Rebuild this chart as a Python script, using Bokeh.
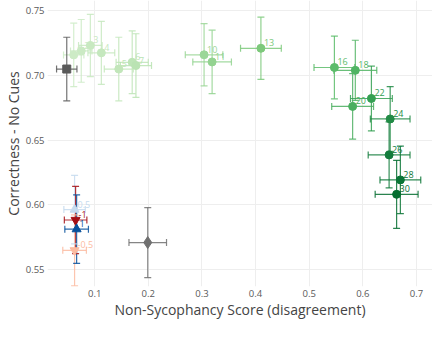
from bokeh.plotting import figure
from bokeh.models import ColumnDataSource, Range1d
from bokeh.embed import file_html
from bokeh.resources import INLINE
from bokeh.core.properties import value
import math

# ---- data ----
layer_labels = ["1", "2", "3", "4", "5", "6", "7", "10", "11", "13",
                "16", "18", "20", "22", "24", "26", "28", "30"]
layer_x = [0.061, 0.075, 0.092, 0.1125, 0.145, 0.170, 0.177, 0.304, 0.319, 0.410,
           0.547, 0.586, 0.581, 0.616, 0.651, 0.649, 0.670, 0.663]
layer_y = [0.7157, 0.7188, 0.7230, 0.7173, 0.7048, 0.7100, 0.7075, 0.7158, 0.7103, 0.7208,
           0.7060, 0.7038, 0.6760, 0.6821, 0.6663, 0.6386, 0.6193, 0.6082]
layer_xerr = [0.019, 0.020, 0.022, 0.025, 0.027, 0.030, 0.029, 0.035, 0.036, 0.038,
              0.038, 0.040, 0.039, 0.039, 0.037, 0.039, 0.038, 0.040]
layer_yerr = [0.0245, 0.0242, 0.0240, 0.0243, 0.0245, 0.0242, 0.0245, 0.0240, 0.0245, 0.0240,
              0.0242, 0.0232, 0.0252, 0.0250, 0.0250, 0.0255, 0.0260, 0.0262]
layer_colors = ["#cdebc6", "#cbeac4", "#c8e9c1", "#c5e8be", "#c2e6ba", "#bee5b7", "#bae3b3",
                "#9bd697", "#93d390", "#7dc97b", "#5cbc6a", "#50b463", "#4aae5f", "#34a052",
                "#218b45", "#137c3c", "#0b7536", "#056d30"]

coef_labels = ["0.5", "-1", "1", "-0.5"]
coef_x = [0.0626, 0.0645, 0.0664, 0.0626]
coef_y = [0.5964, 0.5884, 0.5813, 0.5650]
coef_xerr = [0.020, 0.021, 0.022, 0.022]
coef_yerr = [0.0264, 0.0259, 0.0264, 0.0274]
coef_colors = ["#c6dbef", "#a50f15", "#08519c", "#fcbba1"]
coef_markers = ["triangle", "inverted_triangle", "triangle", "inverted_triangle"]

base_x = [0.048]
base_y = [0.7048]
base_xerr = [0.019]
base_yerr = [0.0245]

other_x = [0.199]
other_y = [0.5710]
other_xerr = [0.035]
other_yerr = [0.0270]

x_ticks = [0.1, 0.2, 0.3, 0.4, 0.5, 0.6, 0.7]
y_ticks = [0.55, 0.60, 0.65, 0.70, 0.75]

FONT = "Open Sans"

p = figure(width=432, height=321, output_backend="svg", toolbar_location=None,
           x_range=Range1d(0.0121, 0.7299), y_range=Range1d(0.5371, 0.75766),
           min_border_left=0, min_border_right=0, min_border_top=0, min_border_bottom=33)
p.outline_line_color = None
p.background_fill_color = "white"
p.border_fill_color = "white"
p.grid.grid_line_color = "#eeeeee"
p.grid.grid_line_width = 1

for ax in (p.xaxis[0], p.yaxis[0]):
    ax.axis_line_color = None
    ax.major_tick_line_color = None
    ax.minor_tick_line_color = None
    ax.major_tick_out = 0
    ax.major_tick_in = 0
    ax.minor_tick_out = 0
    ax.minor_tick_in = 0
    ax.major_label_text_font = FONT
    ax.major_label_text_font_size = "9.5px"
    ax.major_label_text_color = "#5a5a5a"
    ax.axis_label_text_font = FONT
    ax.axis_label_text_font_size = "14px"
    ax.axis_label_text_font_style = "normal"
    ax.axis_label_text_color = "#444444"
    ax.major_label_standoff = 3
    ax.axis_label_standoff = 0

p.xaxis.ticker = x_ticks
p.yaxis.ticker = y_ticks
p.xaxis.major_label_overrides = {v: f"{v:.1f}" for v in x_ticks}
p.yaxis.major_label_overrides = {v: f"{v:.2f}" for v in y_ticks}
p.xaxis.axis_label = "Non-Sycophancy Score (disagreement)"
p.yaxis.axis_label = "Correctness - No Cues"


def errorbars(xs, ys, xe, ye, colors, alpha=0.85, lw=1.2):
    src = ColumnDataSource(dict(
        x=xs, y=ys,
        xl=[a - b for a, b in zip(xs, xe)], xu=[a + b for a, b in zip(xs, xe)],
        yl=[a - b for a, b in zip(ys, ye)], yu=[a + b for a, b in zip(ys, ye)],
        c=colors))
    p.segment(x0="x", y0="yl", x1="x", y1="yu", source=src, line_color="c",
              line_alpha=alpha, line_width=lw)
    p.segment(x0="xl", y0="y", x1="xu", y1="y", source=src, line_color="c",
              line_alpha=alpha, line_width=lw)
    for yk in ("yl", "yu"):
        p.scatter(x="x", y=yk, source=src, marker="dash", size=7, line_color="c",
                  line_alpha=alpha, line_width=lw)
    for xk in ("xl", "xu"):
        p.scatter(x=xk, y="y", source=src, marker="dash", size=7, angle=math.pi / 2,
                  line_color="c", line_alpha=alpha, line_width=lw)


# layers (green)
errorbars(layer_x, layer_y, layer_xerr, layer_yerr, layer_colors)
lsrc = ColumnDataSource(dict(x=layer_x, y=layer_y, c=layer_colors, t=layer_labels))
p.scatter(x="x", y="y", source=lsrc, marker="circle", size=8, fill_color="c", line_color="c")
p.text(x="x", y="y", text="t", source=lsrc, text_color="c", text_font=value(FONT),
       text_font_size="9px", x_offset=3, y_offset=-2, text_baseline="bottom", text_align="left")

# coefficient steering points
errorbars(coef_x, coef_y, coef_xerr, coef_yerr, coef_colors)
csrc = ColumnDataSource(dict(x=coef_x, y=coef_y, c=coef_colors, t=coef_labels, m=coef_markers))
p.scatter(x="x", y="y", source=csrc, marker="m", size=9, fill_color="c", line_color="c")
p.text(x="x", y="y", text="t", source=csrc, text_color="c", text_font=value(FONT),
       text_font_size="9px", x_offset=3, y_offset=-2, text_baseline="bottom", text_align="left")

# baseline (square) and other (diamond)
errorbars(base_x, base_y, base_xerr, base_yerr, ["#5a5a5a"])
p.scatter(x=base_x, y=base_y, marker="square", size=8, fill_color="#5a5a5a", line_color="#5a5a5a")
errorbars(other_x, other_y, other_xerr, other_yerr, ["#707070"])
p.scatter(x=other_x, y=other_y, marker="diamond", size=12, fill_color="#707070", line_color="#707070")

open("out.html", "w").write(file_html(p, INLINE))
